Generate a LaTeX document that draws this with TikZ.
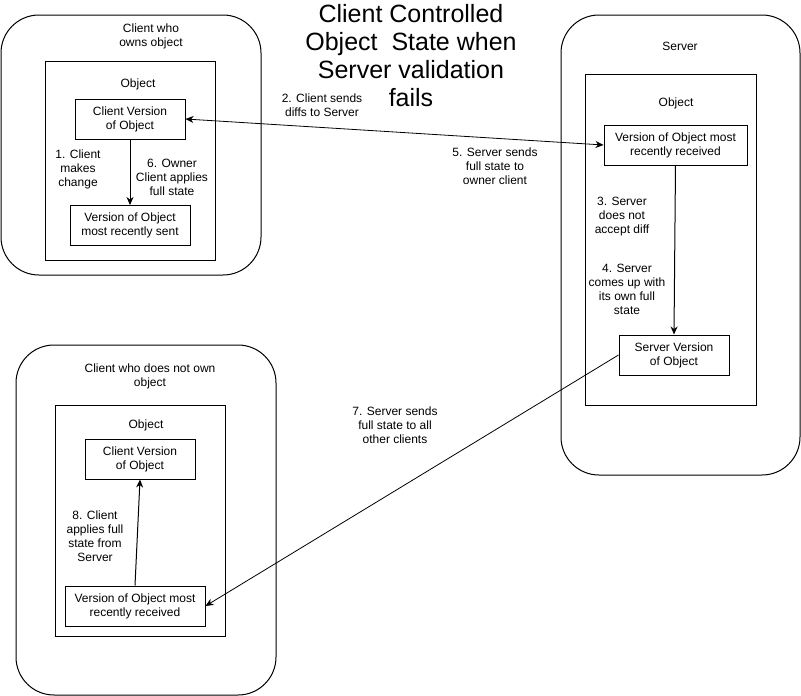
\documentclass[tikz,border=0pt]{standalone}
\usepackage{fontspec}
\setmainfont{Liberation Sans}
\usetikzlibrary{positioning,arrows.meta}

\begin{document}
\begin{tikzpicture}[x=1pt,y=-1pt,line width=1pt,
  every node/.style={align=center,font=\fontsize{12}{14}\selectfont},
  container/.style={draw,rounded corners=38pt},
  objframe/.style={draw},
  version/.style={draw,inner sep=2pt},
  flow/.style={-{Stealth[length=8pt,width=7pt,inset=2.5pt]}},
  bothflow/.style={{Stealth[length=8pt,width=7pt,inset=2.5pt]}-{Stealth[length=8pt,width=7pt,inset=2.5pt]}}]
\useasboundingbox (0,0) rectangle (801,696);
% owner client
\node[container,minimum width=260pt,minimum height=260pt] (owner) at (131,145) {};
\node (ownerlbl) at (151,36) {Client who\\owns object};
\node[objframe,minimum width=170pt,minimum height=199pt] (ownobj) at (130,160.5) {};
\node (ownobjlbl) at (138,84) {Object};
\node[version,minimum width=110pt,minimum height=40pt] (owncv) at (130,119) {Client Version\\of Object};
\node[version,minimum width=120pt,minimum height=40pt] (ownsent) at (130,225.5) {Version of Object\\most recently sent};
\node (step1) at (78,169) {1. Client\\makes\\change};
\node (step6) at (172,177) {6. Owner\\Client applies\\full state};
\draw[flow] (owncv.south) -- (ownsent.north);

% title
\node[font=\fontsize{25}{28}\selectfont] (title) at (411,56) {Client Controlled\\Object\ \ State when\\Server validation\\fails};

% server
\node[container,minimum width=239pt,minimum height=460pt] (server) at (680.5,245) {};
\node (serverlbl) at (680,46) {Server};
\node[objframe,minimum width=171pt,minimum height=331pt] (srvobj) at (670.5,239.5) {};
\node (srvobjlbl) at (676,103) {Object};
\node[version,minimum width=143pt,minimum height=40pt] (srvrecv) at (675.5,145) {Version of Object most\\recently received};
\node[version,minimum width=110pt,minimum height=40pt] (srvver) at (674,355) {Server Version\\of Object};
\node (step3) at (622,217) {3. Server\\does not\\accept diff};
\node (step4) at (627,289) {4. Server\\comes up with\\its own full\\state};
\draw[flow] (srvrecv.south) -- (srvver.north);

% client without ownership
\node[container,minimum width=260pt,minimum height=350pt] (other) at (146,520) {};
\node (otherlbl) at (150,376) {Client who does not own\\object};
\node[objframe,minimum width=170pt,minimum height=231pt] (othobj) at (140.5,520.5) {};
\node (othobjlbl) at (146,425) {Object};
\node[version,minimum width=110pt,minimum height=40pt] (othcv) at (140,459) {Client Version\\of Object};
\node[version,minimum width=140pt,minimum height=40pt] (othrecv) at (135,606) {Version of Object most\\recently received};
\node (step8) at (95,536) {8. Client\\applies full\\state from\\Server};
\draw[flow] (othrecv.north) -- (othcv.south);

% messages between machines
\draw[bothflow,line width=0.8pt] (owncv.east) -- (srvrecv.west);
\node (step2) at (322,105) {2. Client sends\\diffs to Server};
\node (step5) at (495,166) {5. Server sends\\full state to\\owner client};
\draw[flow,line width=0.8pt] (srvver.west) -- (othrecv.east);
\node (step7) at (395,425) {7. Server sends\\full state to all\\other clients};
\end{tikzpicture}
\end{document}
